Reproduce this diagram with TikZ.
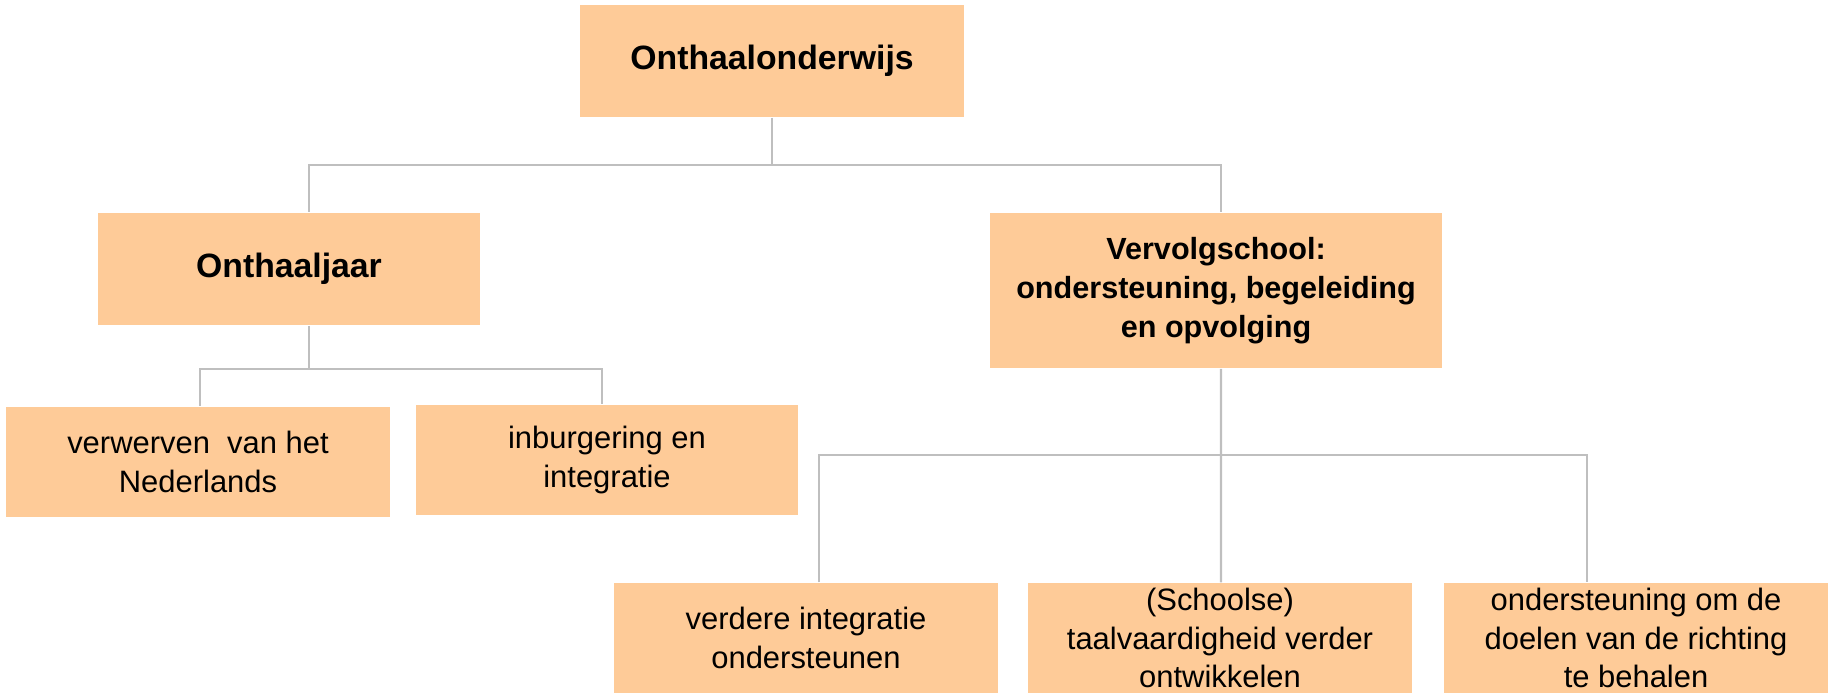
\documentclass[tikz,border=0pt]{standalone}
\usepackage{fontspec}
\setmainfont{Liberation Sans}
\definecolor{peach}{RGB}{254,203,152}
\definecolor{linegray}{RGB}{191,191,191}
\tikzset{
  box/.style={fill=peach, minimum width=3.84cm, minimum height=1.10cm, inner sep=0pt, align=center, font=\fontsize{8.8}{10.9}\selectfont},
  head/.style={box, font=\bfseries\fontsize{9.6}{11.5}\selectfont},
  conn/.style={draw=linegray, line width=0.6pt}
}
\begin{document}
\begin{tikzpicture}[x=0.01cm, y=-0.01cm]
        \useasboundingbox (0,0) rectangle (1831,693);

        \node[head, minimum height=1.12cm] (top) at (772,61) {Onthaalonderwijs};
        \node[head, minimum width=3.82cm, minimum height=1.12cm] (jaar) at (289,269) {Onthaaljaar};
        \node[head, minimum width=4.52cm, minimum height=1.55cm, font=\bfseries\fontsize{8.7}{11}\selectfont] (vervolg) at (1216,290.5) {Vervolgschool:\\ondersteuning, begeleiding\\en opvolging};

        \node[box] (nl) at (198,462) {verwerven\ \ van het\\Nederlands};
        \node[box, minimum width=3.82cm] (inb) at (607,460) {inburgering en\\integratie};

        \node[box] (ver) at (806,638) {verdere integratie\\ondersteunen};
        \node[box] (taal) at (1220,638) {(Schoolse)\\taalvaardigheid verder\\ontwikkelen};
        \node[box] (doel) at (1636,638) {ondersteuning om de\\doelen van de richting\\te behalen};

        % connectors
        \draw[conn] (top.south) -- ++(0,47) coordinate (h1) -| ([xshift=2mm]jaar.north);
        \draw[conn] (h1) -| ([xshift=0.5mm]vervolg.north);
        \draw[conn] ([xshift=2mm]jaar.south) -- ++(0,43) coordinate (h2) -| ([xshift=0.2mm]nl.north);
        \draw[conn] (h2) -| ([xshift=-0.5mm]inb.north);
        \draw[conn] ([xshift=0.5mm]vervolg.south) -- ++(0,86) coordinate (h3) -- ([xshift=0.1mm]taal.north);
        \draw[conn] ([xshift=1.3mm]ver.north) |- (h3) -| ([xshift=-4.9mm]doel.north);

\end{tikzpicture}
\end{document}
